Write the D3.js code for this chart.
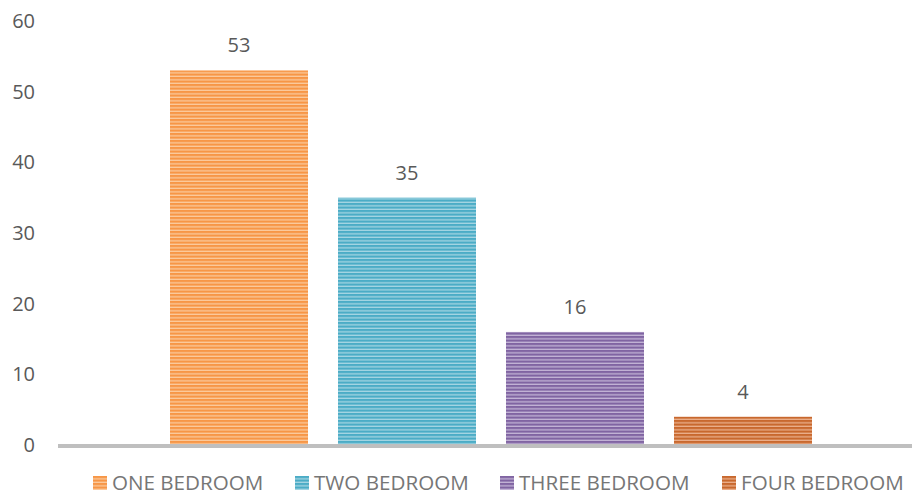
<!DOCTYPE html>
<html lang="en">
<head>
  <meta charset="UTF-8" />
  <title>Bedrooms</title>
  <script src="https://d3js.org/d3.v7.min.js"></script>
  <style>
    body { margin: 0; padding: 0; background: #fff; }
    svg { display: block; font-family: "Open Sans", sans-serif; }
    .tick-label { font-size: 20px; fill: #595959; }
    .value-label { font-size: 20px; fill: #595959; text-anchor: middle; }
    .legend-label { font-size: 20.6px; fill: #767676; }
  </style>
</head>
<body>
  <svg width="912" height="495"></svg>
  <script>
    const categories = ["ONE BEDROOM", "TWO BEDROOM", "THREE BEDROOM", "FOUR BEDROOM"];
    const values = [53, 35, 16, 4];
    const colors = ["#F79646", "#4BACC6", "#8064A2", "#C8682E"];
    const lightColors = ["#FBCB9E", "#A6D6E3", "#C3B4D6", "#EBB08C"];
    const yTicks = [0, 10, 20, 30, 40, 50, 60];
    const legendX = [93, 295, 500, 722];

    const svg = d3.select("svg");

    const y = d3.scaleLinear().domain([0, 60]).range([445, 21]);
    const x = d3.scaleBand()
      .domain(categories)
      .range([155, 827])
      .paddingInner(30 / 168)
      .paddingOuter(15 / 168);

    // striped fills
    const defs = svg.append("defs");
    categories.forEach((c, i) => {
      const p = defs.append("pattern")
        .attr("id", "stripe" + i)
        .attr("patternUnits", "userSpaceOnUse")
        .attr("width", 8)
        .attr("height", 3.5);
      p.append("rect").attr("width", 8).attr("height", 3.5).attr("fill", lightColors[i]);
      p.append("rect").attr("width", 8).attr("height", 2.2).attr("fill", colors[i]);
    });

    // y tick labels
    svg.append("g").selectAll("text")
      .data(yTicks)
      .join("text")
      .attr("class", "tick-label")
      .attr("x", 35)
      .attr("y", d => y(d))
      .attr("dy", "0.35em")
      .attr("text-anchor", "end")
      .text(d => d);

    // bars
    svg.append("g").selectAll("rect")
      .data(values)
      .join("rect")
      .attr("x", (d, i) => x(categories[i]))
      .attr("y", d => y(d))
      .attr("width", x.bandwidth())
      .attr("height", d => y(0) - y(d))
      .attr("fill", (d, i) => `url(#stripe${i})`);

    // value labels
    svg.append("g").selectAll("text")
      .data(values)
      .join("text")
      .attr("class", "value-label")
      .attr("x", (d, i) => x(categories[i]) + x.bandwidth() / 2)
      .attr("y", d => y(d) - 18)
      .text(d => d);

    // baseline
    svg.append("line")
      .attr("x1", 58).attr("x2", 912)
      .attr("y1", y(0) + 1).attr("y2", y(0) + 1)
      .attr("stroke", "#bfbfbf")
      .attr("stroke-width", 4);

    // legend
    const legend = svg.append("g").selectAll("g")
      .data(categories)
      .join("g")
      .attr("transform", (d, i) => `translate(${legendX[i]},476)`);
    legend.append("rect")
      .attr("width", 14).attr("height", 14)
      .attr("fill", (d, i) => `url(#stripe${i})`);
    legend.append("text")
      .attr("class", "legend-label")
      .attr("x", 19)
      .attr("y", 7)
      .attr("dy", "0.36em")
      .text(d => d);
  </script>
</body>
</html>
